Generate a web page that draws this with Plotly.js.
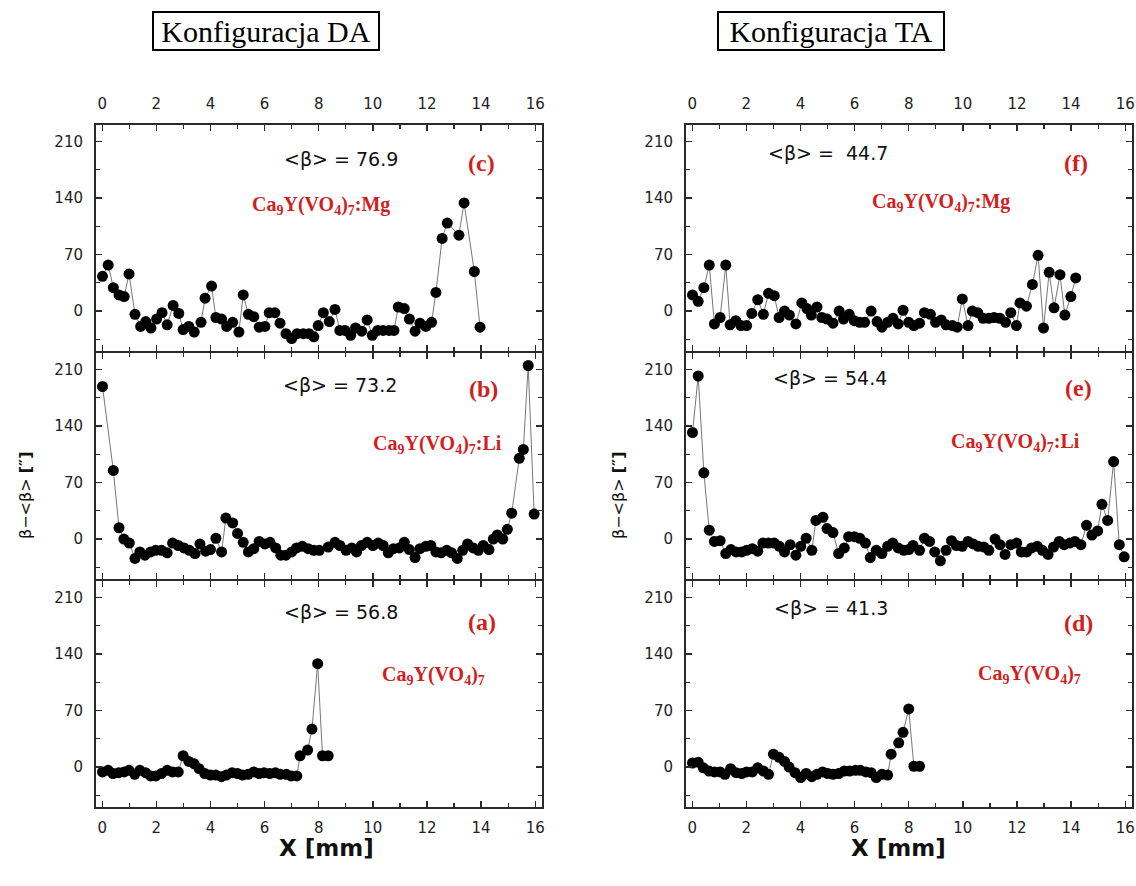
<!DOCTYPE html>
<html>
<head>
<meta charset="utf-8">
<script src="https://cdn.plot.ly/plotly-3.0.1.min.js"></script>
<style>html,body{margin:0;padding:0;background:#fff;}#chart{width:1136px;height:886px;}</style>
</head>
<body>
<div id="chart"></div>
<script>
// ---- Data ----
// Panel (c): Konfiguracja DA, Ca9Y(VO4)7:Mg
const xC = [0.01,0.22,0.41,0.62,0.81,0.99,1.21,1.42,1.61,1.80,2.01,2.21,2.40,2.62,2.83,2.99,3.20,3.40,3.65,3.80,4.04,4.20,4.41,4.60,4.82,5.05,5.21,5.40,5.60,5.80,6.01,6.17,6.38,6.57,6.79,7.00,7.20,7.43,7.64,7.82,7.98,8.17,8.39,8.60,8.78,8.97,9.18,9.36,9.59,9.79,9.98,10.18,10.38,10.60,10.78,10.94,11.16,11.35,11.56,11.74,11.96,12.17,12.33,12.56,12.75,13.18,13.37,13.75,13.96];
const yC = [43,57,29,20,18,46,-4,-19,-13,-21,-10,-2,-17,7,-3,-23,-19,-26,-14,16,31,-8,-10,-19,-14,-26,20,-4,-7,-20,-19,-2,-2,-15,-28,-34,-28,-28,-28,-32,-18,-2,-13,2,-24,-24,-30,-21,-25,-11,-30,-24,-24,-24,-24,5,3,-10,-25,-15,-19,-14,23,90,109,94,134,49,-20];
// Panel (b): Konfiguracja DA, Ca9Y(VO4)7:Li
const xB = [0.01,0.41,0.62,0.80,1.00,1.21,1.39,1.58,1.79,1.98,2.19,2.40,2.60,2.81,3.02,3.22,3.43,3.61,3.82,4.00,4.20,4.41,4.57,4.82,5.00,5.21,5.40,5.60,5.80,6.01,6.20,6.41,6.60,6.79,7.00,7.18,7.39,7.61,7.82,8.02,8.35,8.60,8.78,9.01,9.22,9.40,9.58,9.79,10.00,10.20,10.38,10.57,10.76,10.98,11.16,11.35,11.56,11.74,11.96,12.14,12.33,12.52,12.73,12.91,13.12,13.32,13.50,13.71,13.90,14.08,14.29,14.45,14.60,14.80,14.97,15.13,15.41,15.56,15.74,15.96];
const yB = [189,85,14,0,-5,-24,-16,-20,-16,-14,-14,-17,-5,-8,-11,-14,-18,-6,-15,-13,1,-16,26,20,7,-4,-16,-12,-3,-6,-4,-11,-20,-20,-16,-11,-9,-12,-14,-14,-10,-4,-8,-14,-11,-16,-8,-4,-8,-5,-8,-17,-12,-11,-4,-13,-23,-12,-9,-8,-16,-17,-14,-17,-24,-14,-6,-11,-14,-8,-13,0,5,0,12,32,100,111,215,31];
// Panel (a): Konfiguracja DA, Ca9Y(VO4)7
const xA = [0.01,0.22,0.40,0.61,0.81,0.99,1.20,1.39,1.60,1.79,1.98,2.19,2.40,2.60,2.81,2.99,3.20,3.40,3.58,3.79,4.00,4.20,4.41,4.59,4.80,5.00,5.18,5.39,5.60,5.80,5.98,6.19,6.40,6.58,6.80,6.98,7.19,7.31,7.59,7.75,7.96,8.14,8.35];
const yA = [-6,-4,-8,-7,-6,-4,-9,-4,-7,-11,-11,-8,-4,-6,-6,14,7,4,-2,-8,-10,-10,-12,-10,-7,-8,-10,-9,-6,-8,-7,-8,-7,-9,-9,-11,-11,14,21,47,128,14,14];
// Panel (f): Konfiguracja TA, Ca9Y(VO4)7:Mg
const xF = [0.01,0.22,0.43,0.63,0.82,1.03,1.24,1.40,1.61,1.80,2.01,2.20,2.42,2.63,2.82,3.03,3.21,3.41,3.59,3.83,4.05,4.24,4.40,4.61,4.79,4.98,5.20,5.43,5.59,5.80,5.99,6.19,6.37,6.61,6.83,7.01,7.22,7.42,7.61,7.79,8.00,8.19,8.40,8.58,8.80,8.99,9.20,9.38,9.61,9.79,9.98,10.19,10.35,10.55,10.75,10.96,11.15,11.37,11.58,11.77,11.98,12.11,12.35,12.57,12.78,12.98,13.19,13.37,13.59,13.77,13.99,14.17];
const yF = [20,12,29,57,-16,-8,57,-17,-12,-18,-18,-3,14,-4,22,19,-8,0,-5,-16,10,3,-5,5,-8,-10,-15,0,-10,-4,-12,-14,-14,0,-13,-20,-14,-9,-16,1,-14,-18,-15,-2,-4,-14,-11,-17,-18,-20,15,-18,0,-2,-9,-9,-8,-9,-14,-2,-18,10,6,33,69,-21,48,4,45,-5,18,41];
// Panel (e): Konfiguracja TA, Ca9Y(VO4)7:Li
const xE = [0.01,0.22,0.43,0.63,0.82,1.03,1.24,1.43,1.62,1.83,2.01,2.22,2.42,2.61,2.82,3.03,3.22,3.41,3.62,3.83,4.01,4.21,4.42,4.57,4.83,4.98,5.20,5.41,5.62,5.78,5.99,6.19,6.40,6.58,6.80,7.01,7.22,7.41,7.61,7.82,8.00,8.16,8.40,8.58,8.77,8.96,9.17,9.38,9.58,9.76,9.98,10.19,10.38,10.57,10.78,10.96,11.19,11.37,11.56,11.77,11.99,12.16,12.36,12.54,12.75,12.94,13.15,13.35,13.56,13.74,13.95,14.14,14.36,14.57,14.77,14.98,15.14,15.35,15.57,15.78,15.96];
const yE = [132,202,82,11,-3,-2,-18,-13,-16,-16,-14,-12,-15,-5,-5,-5,-9,-16,-7,-20,-9,1,-14,23,27,13,8,-18,-11,3,3,1,-5,-23,-14,-18,-9,-5,-11,-14,-13,-8,-14,1,-3,-16,-27,-14,-2,-8,-9,-3,-6,-9,-10,-14,0,-7,-19,-7,-5,-16,-16,-11,-9,-14,-19,-10,-3,-7,-5,-3,-7,17,5,10,43,23,96,-7,-22];
// Panel (d): Konfiguracja TA, Ca9Y(VO4)7
const xD = [0.01,0.22,0.41,0.62,0.82,1.03,1.21,1.42,1.62,1.83,2.01,2.22,2.42,2.63,2.82,3.00,3.21,3.41,3.58,3.80,4.01,4.21,4.42,4.61,4.82,5.01,5.20,5.41,5.62,5.82,6.03,6.21,6.42,6.61,6.80,7.01,7.22,7.35,7.63,7.79,8.00,8.19,8.40];
const yD = [5,6,-1,-5,-6,-6,-9,-2,-7,-8,-6,-6,-1,-5,-9,16,12,7,0,-7,-13,-8,-12,-9,-6,-8,-9,-8,-5,-5,-4,-4,-6,-7,-13,-9,-10,16,30,43,72,1,1];

// Tick values and labels
const xTicks = [0,2,4,6,8,10,12,14,16];
const xMinor = [1,3,5,7,9,11,13,15];
const yTicks = [0,70,140,210];
const yMinor = [-35,35,105,175];

// Panel texts
const meanTexts = {a:'56.8', b:'73.2', c:'76.9', d:'41.3', e:'54.4', f:'44.7'};
const compounds = {
  base: 'Ca<sub>9</sub>Y(VO<sub>4</sub>)<sub>7</sub>',
  li: 'Ca<sub>9</sub>Y(VO<sub>4</sub>)<sub>7</sub>:Li',
  mg: 'Ca<sub>9</sub>Y(VO<sub>4</sub>)<sub>7</sub>:Mg'
};
const configTitles = ['Konfiguracja DA', 'Konfiguracja TA'];

// ---- Layout helpers ----
const W = 1136, H = 886;
const colDom = [[96/W, 542/W], [686/W, 1132/W]];
const rowDom = { // pixel top/bottom -> paper (2px gaps so shared frame lines overlap)
  top: [1-351/H, 1-125/H],
  mid: [1-579/H, 1-353/H],
  bot: [1-807/H, 1-581/H]
};
const axLine = {
  showline:true, linecolor:'#2a2a2a', linewidth:2, mirror:'allticks',
  ticks:'inside', ticklen:6, tickwidth:1.3, tickcolor:'#2a2a2a',
  zeroline:false, showgrid:false, fixedrange:true,
  tickfont:{family:'DejaVu Sans, Liberation Sans, Arial', size:15, color:'#222'}
};
function xAxis(col, row, side, labels){
  return Object.assign({}, axLine, {
    domain: colDom[col], range:[-0.23,16.25],
    tickmode:'array', tickvals:xTicks, ticktext:xTicks.map(String),
    minor:{tickmode:'array', tickvals:xMinor, ticks:'inside', ticklen:4, tickwidth:1.3, tickcolor:'#2a2a2a'},
    side: side, showticklabels: labels, ticklabelstandoff: side==='top' ? 8 : 6
  });
}
function yAxis(row, xa){
  return Object.assign({}, axLine, {
    domain: rowDom[row], anchor: xa, range:[-49.5,230.5],
    tickmode:'array', tickvals:yTicks, ticktext:yTicks.map(String),
    minor:{tickmode:'array', tickvals:yMinor, ticks:'inside', ticklen:4, tickwidth:1.3, tickcolor:'#2a2a2a'},
    ticklabelstandoff: 8
  });
}

// axes: 1=a(left bot),2=b(left mid),3=c(left top),4=d(right bot),5=e(right mid),6=f(right top)
const panels = [
  {id:'a', xs:xA, ys:yA, col:0, row:'bot', side:'bottom', comp:compounds.base},
  {id:'b', xs:xB, ys:yB, col:0, row:'mid', side:'bottom', comp:compounds.li},
  {id:'c', xs:xC, ys:yC, col:0, row:'top', side:'top', comp:compounds.mg},
  {id:'d', xs:xD, ys:yD, col:1, row:'bot', side:'bottom', comp:compounds.base},
  {id:'e', xs:xE, ys:yE, col:1, row:'mid', side:'bottom', comp:compounds.li},
  {id:'f', xs:xF, ys:yF, col:1, row:'top', side:'top', comp:compounds.mg}
];
// text placement (data coords) per panel
const place = {
  a:{mean:[8.82,192], tag:[14.02,180], comp:[12.23,114]},
  b:{mean:[8.78,191], tag:[14.07,186], comp:[12.39,117]},
  c:{mean:[8.84,189], tag:[14.0,184], comp:[8.08,131]},
  d:{mean:[5.13,197], tag:[14.29,179], comp:[12.47,115]},
  e:{mean:[5.10,199], tag:[14.27,187], comp:[11.95,120]},
  f:{mean:[5.01,196], tag:[14.17,184], comp:[9.19,134]}
};

const traces = [];
const layout = {
  width:W, height:H, margin:{l:0,r:0,t:0,b:0},
  paper_bgcolor:'#fff', plot_bgcolor:'#fff', showlegend:false,
  annotations:[]
};
const red = '#d11f1f';
panels.forEach((p,i)=>{
  const n = i+1, xs = n===1?'x':'x'+n, ys = n===1?'y':'y'+n;
  traces.push({
    type:'scatter', mode:'lines+markers', x:p.xs, y:p.ys, xaxis:xs, yaxis:ys,
    line:{color:'#777', width:1}, marker:{color:'#000', size:11},
    cliponaxis:true, hoverinfo:'skip'
  });
  const labels = (p.row==='top' || p.row==='bot');
  layout[n===1?'xaxis':'xaxis'+n] = Object.assign(xAxis(p.col, p.row, p.side, labels), {anchor: ys});
  layout[n===1?'yaxis':'yaxis'+n] = yAxis(p.row, xs);
  const pl = place[p.id];
  const meanStr = p.id==='f' ? '&lt;β&gt; =  ' + meanTexts[p.id] : '&lt;β&gt; = ' + meanTexts[p.id];
  layout.annotations.push(
    {xref:xs, yref:ys, x:pl.mean[0], y:pl.mean[1], text:meanStr, showarrow:false,
     xanchor:'center', yanchor:'middle', font:{family:'DejaVu Sans, Arial', size:19, color:'#111'}},
    {xref:xs, yref:ys, x:pl.tag[0], y:pl.tag[1], text:'<b>('+p.id+')</b>', showarrow:false,
     xanchor:'center', yanchor:'middle', font:{family:'Liberation Serif, Times New Roman, serif', size:24, color:red}},
    {xref:xs, yref:ys, x:pl.comp[0], y:pl.comp[1], text:'<b>'+p.comp+'</b>', showarrow:false,
     xanchor:'center', yanchor:'middle', font:{family:'Liberation Serif, Times New Roman, serif', size:20, color:red}}
  );
});

// Config titles (boxed)
[[266, configTitles[0]], [831, configTitles[1]]].forEach(([px, t])=>{
  layout.annotations.push({xref:'paper', yref:'paper', x:px/W, y:1-31/H, text:t, showarrow:false,
    xanchor:'center', yanchor:'middle', width:222, height:34, borderpad:1,
    bordercolor:'#000', borderwidth:2, bgcolor:'#fff',
    font:{family:'Liberation Serif, Times New Roman, serif', size:30, color:'#000'}});
});
// y-axis titles
[[25, 0], [618, 1]].forEach(([px])=>{
  layout.annotations.push({xref:'paper', yref:'paper', x:px/W, y:1-495/H, text:'β−&lt;β&gt; <b>[″]</b>',
    textangle:-90, showarrow:false, xanchor:'center', yanchor:'middle',
    font:{family:'DejaVu Sans, Arial', size:16, color:'#111'}});
});
// x-axis titles
[[326],[898]].forEach(([px])=>{
  layout.annotations.push({xref:'paper', yref:'paper', x:px/W, y:1-848/H, text:'<b>X [mm]</b>',
    showarrow:false, xanchor:'center', yanchor:'middle',
    font:{family:'DejaVu Sans, Arial', size:23, color:'#111'}});
});

Plotly.newPlot('chart', traces, layout, {staticPlot:true, displayModeBar:false});
</script>
</body>
</html>
